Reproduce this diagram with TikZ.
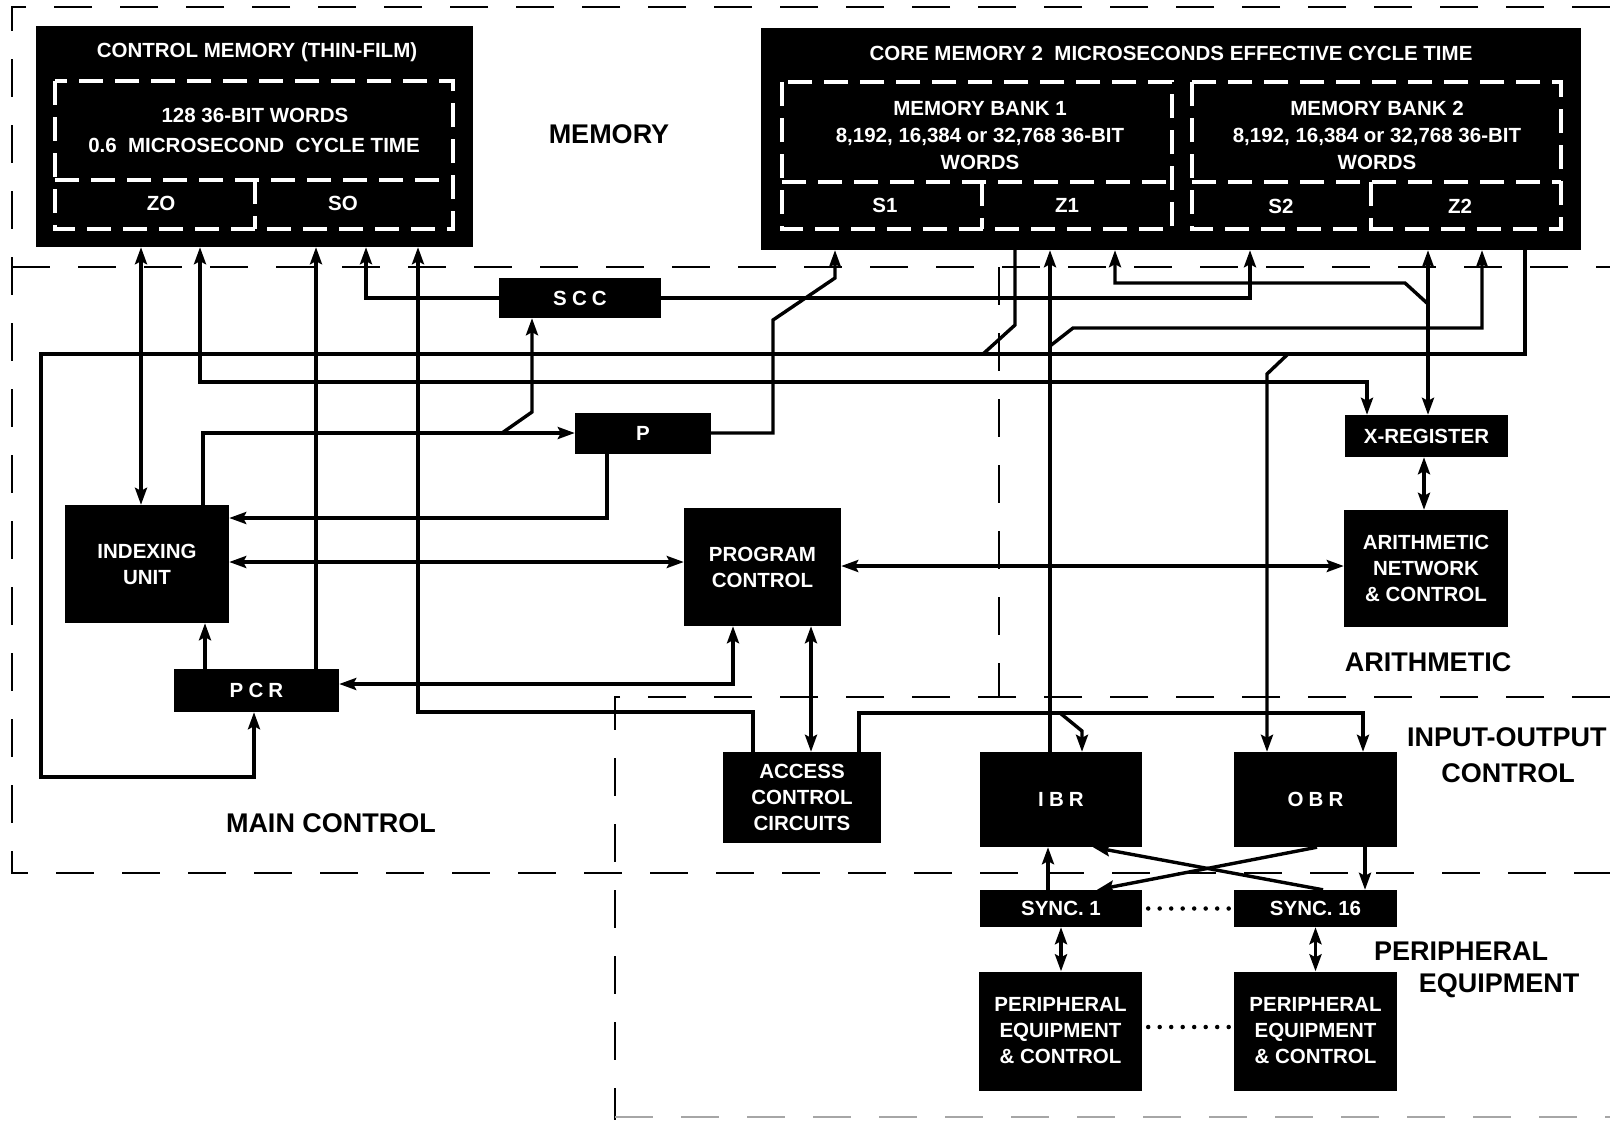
\documentclass[tikz,border=0pt]{standalone}
\usepackage{fontspec}
\setmainfont{Liberation Sans}
\usetikzlibrary{arrows.meta}
\newcommand\bxfont{\fontsize{20.5}{26}\selectfont\bfseries}
\newcommand\lbfont{\fontsize{27}{31}\selectfont\bfseries}
\newcommand\lsp[1]{{\addfontfeature{LetterSpace=25}#1}}
\begin{document}
\begin{tikzpicture}[x=1pt,y=-1pt,
  blk/.style={fill=black,text=white,inner sep=0pt,align=center,font=\bxfont},
  wtxt/.style={text=white,inner sep=0pt,align=center,font=\bxfont},
  lbl/.style={inner sep=0pt,align=center,font=\lbfont},
  boundline/.style={line width=2.6pt,dash pattern=on 38pt off 28pt},
  innerdash/.style={white,line width=3.2pt,dash pattern=on 24pt off 12pt},
  wire/.style={line width=3.4pt},
  arr/.style={wire,arrows={-Stealth[length=17pt,width=12pt,inset=3pt]}},
  arrb/.style={wire,arrows={Stealth[length=17pt,width=12pt,inset=3pt]-Stealth[length=17pt,width=12pt,inset=3pt]}},
  dotline/.style={line width=4.5pt,line cap=round,dash pattern=on 0pt off 11.5pt}]
\fill[white] (0,0) rectangle (1610,1120);
\useasboundingbox (0,0) rectangle (1610,1120);

% helper columns and rows
\foreach \v in {141,200,203,205,254,316,366,418,532,607,733,753,811,835,859,1015,1048,1050,1061,1082,1093,1097,1115,1250,1267,1317,1323,1363,1365,1367,1424,1428,1482,1525}
  {\coordinate (x\v) at (\v,0);}
\foreach \v in {433,518,562,566,684,1027}
  {\coordinate (y\v) at (0,\v);}

% region boundaries
\draw[boundline] (1610,7) -- (12,7) -- (12,873) -- (1610,873);
\draw[boundline] (12,267) -- (1610,267);
\draw[boundline] (999,267) -- (999,697);
\draw[boundline] (1610,697) -- (615,697) -- (615,1120);
\draw[boundline,line width=2pt,gray!70] (615,1117) -- (1610,1117);

% boxes
\node[blk,minimum width=437pt,minimum height=221pt] (cm) at (254.5,136.5) {};
\node[blk,minimum width=820pt,minimum height=222pt] (core) at (1171,139) {};
\node[blk,minimum width=162pt,minimum height=40pt] (scc) at (580,298) {\lsp{SCC}};
\node[blk,minimum width=136pt,minimum height=41pt] (p) at (643,433) {P};
\node[blk,minimum width=164pt,minimum height=118pt] (iu) at (147,564) {INDEXING\\UNIT};
\node[blk,minimum width=157pt,minimum height=118pt] (pc) at (762.5,567) {PROGRAM\\CONTROL};
\node[blk,minimum width=165pt,minimum height=43pt] (pcr) at (256.5,690.5) {\lsp{PCR}};
\node[blk,minimum width=158pt,minimum height=91pt] (acc) at (802,797.5) {ACCESS\\CONTROL\\CIRCUITS};
\node[blk,minimum width=163pt,minimum height=42pt] (xreg) at (1426.5,436) {X-REGISTER};
\node[blk,minimum width=164pt,minimum height=117pt] (arith) at (1426,568.5) {ARITHMETIC\\NETWORK\\\& CONTROL};
\node[blk,minimum width=162pt,minimum height=95pt] (ibr) at (1061,799.5) {\lsp{IBR}};
\node[blk,minimum width=163pt,minimum height=95pt] (obr) at (1315.5,799.5) {\lsp{OBR}};
\node[blk,minimum width=162pt,minimum height=37pt] (sync1) at (1061,908.5) {SYNC. 1};
\node[blk,minimum width=163pt,minimum height=37pt] (sync16) at (1315.5,908.5) {SYNC. 16};
\node[blk,minimum width=163pt,minimum height=119pt] (pe1) at (1060.5,1031) {PERIPHERAL\\EQUIPMENT\\\& CONTROL};
\node[blk,minimum width=163pt,minimum height=119pt] (pe2) at (1315.5,1031) {PERIPHERAL\\EQUIPMENT\\\& CONTROL};

% control memory interior
\draw[innerdash] (55,81) rectangle (453,229);
\draw[innerdash] (55,180) -- (453,180);
\draw[innerdash] (255,180) -- (255,229);
\node[wtxt] (cmt) at (257,52) {CONTROL MEMORY (THIN-FILM)};
\node[wtxt] (cmw) at (255,115) {128 36-BIT WORDS};
\node[wtxt] (cmc) at (254,145) {0.6\ \ MICROSECOND\ \ CYCLE TIME};
\node[wtxt] (zo) at (161,203) {ZO};
\node[wtxt] (so) at (343,203) {SO};

% core memory interior
\draw[innerdash] (782,82) rectangle (1172,229);
\draw[innerdash] (782,182) -- (1172,182);
\draw[innerdash] (982,182) -- (982,229);
\draw[innerdash] (1192,82) rectangle (1561,229);
\draw[innerdash] (1192,182) -- (1561,182);
\draw[innerdash] (1371,182) -- (1371,229);
\node[wtxt] (cot) at (1171,53) {CORE MEMORY 2\ \ MICROSECONDS EFFECTIVE CYCLE TIME};
\node[wtxt,font=\fontsize{20.5}{27}\selectfont\bfseries] (b1) at (980,135) {MEMORY BANK 1\\8,192, 16,384 or 32,768 36-BIT\\WORDS};
\node[wtxt,font=\fontsize{20.5}{27}\selectfont\bfseries] (b2) at (1377,135) {MEMORY BANK 2\\8,192, 16,384 or 32,768 36-BIT\\WORDS};
\node[wtxt] (s1) at (885,205) {S1};
\node[wtxt] (z1) at (1067,205) {Z1};
\node[wtxt] (s2) at (1281,206) {S2};
\node[wtxt] (z2) at (1460,206) {Z2};

% region labels
\node[lbl] (lmem) at (609,134) {MEMORY};
\node[lbl] (lmain) at (331,823) {MAIN CONTROL};
\node[lbl] (larith) at (1428,662) {ARITHMETIC};
\node[lbl,anchor=west] (lio1) at (1407,737) {INPUT-OUTPUT};
\node[lbl] (lio2) at (1508,773) {CONTROL};
\node[lbl] (lpe1) at (1461,951) {PERIPHERAL};
\node[lbl] (lpe2) at (1499,986) {EQUIPMENT};

% connectors
\draw[arrb] (cm.south -| x141) -- (iu.north -| x141);
\draw[arrb] (cm.south -| x200) -- (200,382) -- (1367,382) -- (xreg.north -| x1367);
\draw[arr] (pcr.north -| x316) -- (cm.south -| x316);
\draw[arr] (scc.west) -- (366,298) -- (cm.south -| x366);
\draw[arr] (acc.north -| x753) -- (753,712) -- (418,712) -- (cm.south -| x418);
\draw[arr] (core.south -| x1525) -- (1525,354) -- (41,354) -- (41,777) -- (254,777) -- (pcr.south -| x254);
\draw[wire] (core.south -| x1015) -- (1015,325) -- (983,354);
\draw[arr] (1288,354) -- (1267,374) -- (obr.north -| x1267);
\draw[arr] (iu.north -| x203) -- (203,433) -- (p.west |- y433);
\draw[arr] (502,433) -- (532,412) -- (scc.south -| x532);
\draw[arr] (p.south -| x607) -- (607,518) -- (iu.east |- y518);
\draw[arrb] (iu.east |- y562) -- (pc.west |- y562);
\draw[arrb] (pc.east |- y566) -- (arith.west |- y566);
\draw[arr] (pcr.north -| x205) -- (iu.south -| x205);
\draw[arrb] (pc.south -| x733) -- (733,684) -- (pcr.east |- y684);
\draw[arrb] (pc.south -| x811) -- (acc.north -| x811);
\draw[arr] (acc.north -| x859) -- (859,713) -- (1363,713) -- (obr.north -| x1363);
\draw[arr] (1060,713) -- (1082,731) -- (ibr.north -| x1082);
\draw[arr] (p.east |- y433) -- (773,433) -- (773,320) -- (835,278) -- (core.south -| x835);
\draw[arr] (scc.east) -- (1250,298) -- (core.south -| x1250);
\draw[arr] (ibr.north -| x1050) -- (core.south -| x1050);
\draw[arr] (1050,346) -- (1073,328) -- (1482,328) -- (core.south -| x1482);
\draw[arrb] (xreg.north -| x1428) -- (core.south -| x1428);
\draw[arr] (1428,304) -- (1405,283) -- (1115,283) -- (core.south -| x1115);
\draw[arrb] (xreg.south -| x1424) -- (arith.north -| x1424);
\draw[arr] (sync1.north -| x1048) -- (ibr.south -| x1048);
\draw[arr] (obr.south -| x1365) -- (sync16.north -| x1365);
\draw[arr] (sync16.north -| x1323) -- (ibr.south -| x1093);
\draw[arr] (obr.south -| x1317) -- (sync1.north -| x1097);
\draw[arrb] (sync1.south -| x1061) -- (pe1.north -| x1061);
\draw[arrb] (sync16.south) -- (pe2.north);
\draw[dotline] ([xshift=6pt]sync1.east) -- ([xshift=-4pt]sync16.west);
\draw[dotline] ([xshift=6pt]pe1.east |- y1027) -- ([xshift=-4pt]pe2.west |- y1027);
\end{tikzpicture}
\end{document}
